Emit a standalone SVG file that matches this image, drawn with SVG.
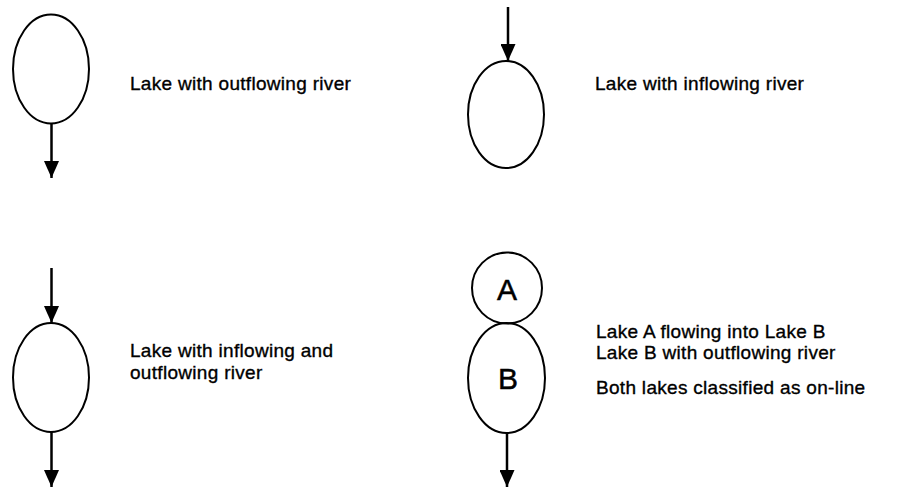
<svg xmlns="http://www.w3.org/2000/svg" width="899" height="487" viewBox="0 0 899 487">
<defs>
<style>
.lake{fill:none;stroke:#000;stroke-width:2}
.flow{stroke:#000;stroke-width:2.5;fill:none}
.lbl{font-family:"Liberation Sans",Arial,sans-serif;font-size:19px;letter-spacing:0.3px;fill:#000;stroke:#000;stroke-width:0.35}
.big{font-family:"Liberation Sans",Arial,sans-serif;font-size:30px;fill:#000;stroke:#000;stroke-width:0.5;text-anchor:middle}
</style>
<marker id="ah" markerWidth="17" markerHeight="15" refX="17" refY="7.5" orient="auto" markerUnits="userSpaceOnUse" viewBox="0 0 17 15">
<path d="M0,0 L17,7.5 L0,15 Z" fill="#000"/>
</marker>
</defs>
<rect width="899" height="487" fill="#fff"/>
<g id="lake1">
<ellipse class="lake" cx="51" cy="69" rx="38" ry="54.5"/>
<text class="lbl" x="130" y="90">Lake with outflowing river</text>
</g>
<g id="lake2">
<ellipse class="lake" cx="506" cy="114.5" rx="38" ry="53.5"/>
<text class="lbl" x="595" y="90">Lake with inflowing river</text>
</g>
<g id="lake3">
<ellipse class="lake" cx="51" cy="377.5" rx="38" ry="54.5"/>
<text class="lbl" x="130" y="357">Lake with inflowing and</text>
<text class="lbl" x="130" y="379">outflowing river</text>
</g>
<g id="lakeA">
<ellipse class="lake" cx="507" cy="288" rx="35" ry="35.5"/>
<text class="big" x="507" y="300">A</text>
</g>
<g id="lakeB">
<ellipse class="lake" cx="506.5" cy="378" rx="38.5" ry="55"/>
<text class="big" x="508" y="389">B</text>
</g>
<g id="notes">
<text class="lbl" x="596" y="338">Lake A flowing into Lake B</text>
<text class="lbl" x="596" y="359">Lake B with outflowing river</text>
<text class="lbl" x="596" y="394">Both lakes classified as on-line</text>
</g>
<g id="connectors">
<line class="flow" x1="51.5" y1="123.5" x2="51.5" y2="178" marker-end="url(#ah)"/>
<line class="flow" x1="508" y1="7" x2="508" y2="61" marker-end="url(#ah)"/>
<line class="flow" x1="51.5" y1="268" x2="51.5" y2="323" marker-end="url(#ah)"/>
<line class="flow" x1="51.5" y1="432" x2="51.5" y2="487" marker-end="url(#ah)"/>
<line class="flow" x1="507" y1="433" x2="507" y2="487" marker-end="url(#ah)"/>
</g>
</svg>
